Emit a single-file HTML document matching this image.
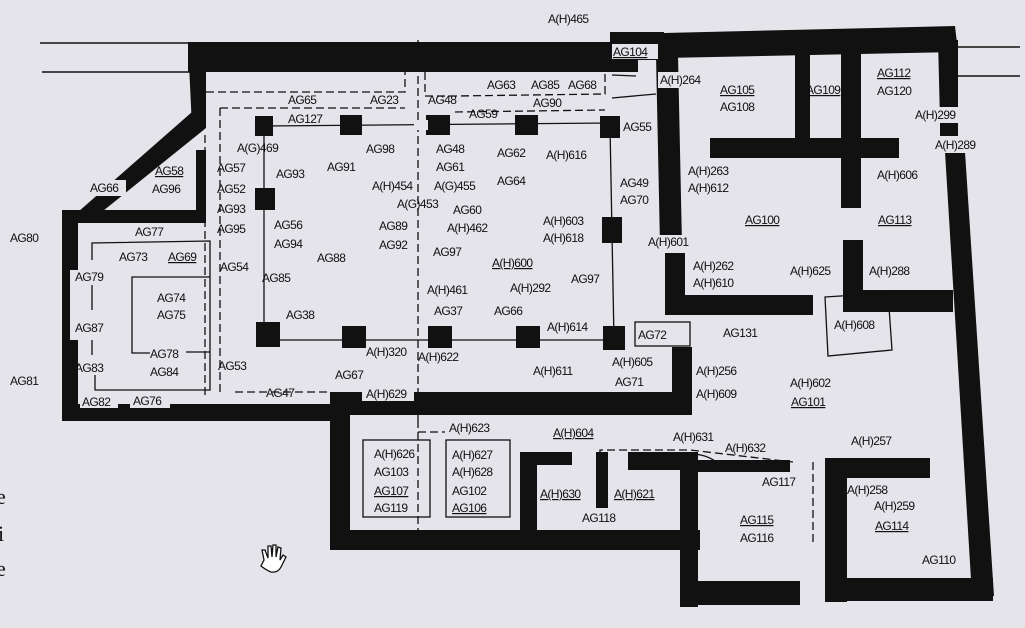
<!DOCTYPE html>
<html><head><meta charset="utf-8"><style>
html,body{margin:0;padding:0;background:#e4e4ea;}
svg{display:block}
text{font-family:"Liberation Sans",sans-serif;font-size:12px;fill:#111;letter-spacing:-0.6px}
.u{text-decoration:underline}
</style></head><body>
<svg width="1025" height="628" viewBox="0 0 1025 628" xmlns="http://www.w3.org/2000/svg">
<rect width="1025" height="628" fill="#e4e4ea"/>
<g stroke="#111" stroke-width="1.5">
<line x1="40" y1="43" x2="190" y2="43"/><line x1="42" y1="72" x2="190" y2="72"/>
<line x1="958" y1="47" x2="1020" y2="47"/><line x1="958" y1="76" x2="1020" y2="76"/>
</g>
<g fill="#111">
<rect x="188" y="42" width="425" height="30"/>
<polygon points="610,32 664,32 664,60 610,60"/>
<polygon points="610,60 638,60 638,72 610,72"/>
<polygon points="664,33 955,26 958,52 664,58"/>
<polygon points="938,40 958,40 958,120 940,120"/>
<rect x="940" y="123" width="18" height="13"/>
<polygon points="945,152 965,152 994,596 972,596"/>
<polygon points="188,42 206,42 206,128 192,128"/>
<polygon points="192,112 206,128 98,215 78,212"/>
<rect x="62" y="212" width="16" height="208"/>
<rect x="62" y="210" width="144" height="13"/>
<rect x="196" y="150" width="10" height="72"/>
<rect x="62" y="404" width="288" height="17"/>
<rect x="330" y="392" width="362" height="23"/>
<rect x="672" y="347" width="20" height="68"/>
<rect x="330" y="392" width="20" height="158"/>
<rect x="330" y="530" width="370" height="20"/>
<polygon points="656,55 678,55 682,245 660,245"/>
<rect x="665" y="253" width="20" height="62"/>
<rect x="665" y="295" width="148" height="20"/>
<rect x="710" y="138" width="189" height="20"/>
<rect x="795" y="50" width="15" height="90"/>
<rect x="841" y="48" width="20" height="160"/>
<rect x="843" y="240" width="20" height="72"/>
<rect x="843" y="290" width="110" height="22"/>
<rect x="520" y="452" width="17" height="80"/>
<rect x="520" y="452" width="52" height="13"/>
<rect x="596" y="452" width="12" height="56"/>
<rect x="628" y="452" width="70" height="18"/>
<rect x="690" y="460" width="100" height="12"/>
<rect x="680" y="452" width="18" height="155"/>
<rect x="680" y="581" width="120" height="24"/>
<rect x="825" y="458" width="22" height="144"/>
<rect x="825" y="458" width="105" height="20"/>
<rect x="825" y="578" width="168" height="23"/>
<rect x="255" y="116" width="18" height="20"/><rect x="340" y="115" width="22" height="20"/><rect x="426" y="115" width="24" height="20"/><rect x="515" y="115" width="23" height="20"/><rect x="600" y="116" width="20" height="22"/>
<rect x="255" y="188" width="20" height="22"/><rect x="602" y="217" width="20" height="26"/>
<rect x="256" y="322" width="24" height="25"/><rect x="342" y="326" width="24" height="22"/><rect x="428" y="326" width="24" height="22"/><rect x="516" y="326" width="24" height="22"/><rect x="603" y="326" width="22" height="24"/>
</g>
<g stroke="#111" stroke-width="1.3" fill="none">
<line x1="264" y1="126" x2="610" y2="123"/><line x1="264" y1="340" x2="615" y2="340"/>
<line x1="264" y1="126" x2="264" y2="340"/><line x1="610" y1="126" x2="614" y2="340"/>
<polyline points="92,260 92,243 210,241 210,390 95,390 95,375"/>
<line x1="92" y1="285" x2="92" y2="310"/><line x1="92" y1="340" x2="92" y2="355"/>
<polyline points="210,277 132,277 132,353 150,353"/><line x1="186" y1="352" x2="210" y2="352"/>
<rect x="363" y="440" width="67" height="77"/><rect x="446" y="440" width="64" height="77"/>
<rect x="635" y="322" width="55" height="24" fill="#e4e4ea"/>
<polygon points="825,297 888,293 892,350 828,356"/>
<line x1="612" y1="75" x2="636" y2="76"/><line x1="612" y1="98" x2="656" y2="94"/>
<path d="M690,455 Q705,452 722,466"/>
</g>
<g stroke="#111" stroke-width="1.3" fill="none" stroke-dasharray="8,4">
<polyline points="206,92 405,92 405,72"/><polyline points="220,108 405,108"/>
<line x1="220" y1="108" x2="220" y2="392"/><line x1="205" y1="135" x2="205" y2="395"/>
<polyline points="425,72 425,96 455,96 605,94 605,72"/><polyline points="455,112 605,110"/>
<line x1="418" y1="40" x2="418" y2="420"/><line x1="418" y1="420" x2="418" y2="535"/>
<line x1="235" y1="392" x2="330" y2="392"/>
<polyline points="600,455 600,450 690,450 793,462"/>
<line x1="813" y1="462" x2="813" y2="545"/>
<polyline points="418,432 445,432"/>
</g>
<g fill="#e4e4ea">
<rect x="612" y="44" width="46" height="15"/><rect x="414" y="120" width="14" height="10"/>
<rect x="132" y="226" width="38" height="12"/><rect x="80" y="396" width="38" height="12"/><rect x="130" y="396" width="40" height="12"/>
<rect x="362" y="388" width="52" height="13"/><rect x="70" y="270" width="10" height="70"/>
<rect x="86" y="180" width="40" height="16"/><rect x="658" y="72" width="44" height="16"/>
<rect x="913" y="107" width="50" height="16"/><rect x="933" y="137" width="52" height="16"/>
<rect x="646" y="235" width="46" height="16"/>
</g>
<g>
<text x="548" y="23">A(H)465</text>
<text x="613" y="56" class="u">AG104</text>
<text x="660" y="84">A(H)264</text>
<text x="720" y="94" class="u">AG105</text><text x="720" y="111">AG108</text>
<text x="806" y="94" class="u">AG109</text>
<text x="877" y="77" class="u">AG112</text><text x="877" y="95">AG120</text>
<text x="915" y="119">A(H)299</text><text x="935" y="149">A(H)289</text>
<text x="288" y="104">AG65</text><text x="370" y="104">AG23</text><text x="428" y="104">AG48</text>
<text x="487" y="89">AG63</text><text x="531" y="89">AG85</text><text x="568" y="89">AG68</text>
<text x="533" y="107">AG90</text><text x="469" y="118">AG59</text>
<text x="288" y="123">AG127</text><text x="623" y="131">AG55</text>
<text x="237" y="152">A(G)469</text><text x="366" y="153">AG98</text><text x="436" y="153">AG48</text>
<text x="497" y="157">AG62</text><text x="546" y="159">A(H)616</text>
<text x="217" y="172">AG57</text><text x="276" y="178">AG93</text><text x="327" y="171">AG91</text><text x="436" y="171">AG61</text>
<text x="155" y="175" class="u">AG58</text><text x="152" y="193">AG96</text><text x="90" y="192">AG66</text>
<text x="217" y="193">AG52</text><text x="372" y="190">A(H)454</text><text x="434" y="190">A(G)455</text><text x="497" y="185">AG64</text>
<text x="688" y="175">A(H)263</text><text x="688" y="192">A(H)612</text><text x="877" y="179">A(H)606</text>
<text x="620" y="187">AG49</text><text x="620" y="204">AG70</text>
<text x="217" y="213">AG93</text><text x="397" y="208">A(G)453</text><text x="453" y="214">AG60</text>
<text x="217" y="233">AG95</text><text x="274" y="229">AG56</text><text x="379" y="230">AG89</text><text x="447" y="232">A(H)462</text>
<text x="543" y="225">A(H)603</text><text x="543" y="242">A(H)618</text>
<text x="745" y="224" class="u">AG100</text><text x="878" y="224" class="u">AG113</text>
<text x="10" y="242">AG80</text>
<text x="135" y="236">AG77</text><text x="119" y="261">AG73</text><text x="168" y="261" class="u">AG69</text>
<text x="274" y="248">AG94</text><text x="379" y="249">AG92</text><text x="433" y="256">AG97</text><text x="317" y="262">AG88</text>
<text x="648" y="246">A(H)601</text><text x="693" y="270">A(H)262</text><text x="693" y="287">A(H)610</text>
<text x="790" y="275">A(H)625</text><text x="869" y="275">A(H)288</text>
<text x="220" y="271">AG54</text><text x="75" y="281">AG79</text><text x="262" y="282">AG85</text><text x="492" y="267" class="u">A(H)600</text>
<text x="157" y="302">AG74</text><text x="157" y="319">AG75</text><text x="427" y="294">A(H)461</text><text x="510" y="292">A(H)292</text><text x="571" y="283">AG97</text>
<text x="286" y="319">AG38</text><text x="434" y="315">AG37</text><text x="494" y="315">AG66</text><text x="834" y="329">A(H)608</text>
<text x="75" y="332">AG87</text><text x="547" y="331">A(H)614</text><text x="638" y="339">AG72</text><text x="723" y="337">AG131</text>
<text x="366" y="356">A(H)320</text><text x="418" y="361">A(H)622</text><text x="150" y="358">AG78</text><text x="150" y="376">AG84</text>
<text x="75" y="372">AG83</text><text x="218" y="370">AG53</text><text x="612" y="366">A(H)605</text><text x="533" y="375">A(H)611</text>
<text x="696" y="375">A(H)256</text><text x="790" y="387">A(H)602</text><text x="335" y="379">AG67</text><text x="615" y="386">AG71</text>
<text x="696" y="398">A(H)609</text><text x="791" y="406" class="u">AG101</text>
<text x="10" y="385">AG81</text><text x="266" y="397">AG47</text><text x="366" y="398">A(H)629</text>
<text x="82" y="406">AG82</text><text x="133" y="405">AG76</text>
<text x="449" y="432">A(H)623</text><text x="553" y="437" class="u">A(H)604</text><text x="673" y="441">A(H)631</text>
<text x="725" y="452">A(H)632</text><text x="851" y="445">A(H)257</text>
<text x="374" y="458">A(H)626</text><text x="452" y="459">A(H)627</text>
<text x="374" y="476">AG103</text><text x="452" y="476">A(H)628</text>
<text x="374" y="495" class="u">AG107</text><text x="452" y="495">AG102</text>
<text x="374" y="512">AG119</text><text x="452" y="512" class="u">AG106</text>
<text x="762" y="486">AG117</text><text x="540" y="498" class="u">A(H)630</text><text x="614" y="498" class="u">A(H)621</text>
<text x="847" y="494">A(H)258</text><text x="874" y="510">A(H)259</text><text x="875" y="530" class="u">AG114</text>
<text x="582" y="522">AG118</text><text x="740" y="524" class="u">AG115</text><text x="740" y="542">AG116</text>
<text x="922" y="564">AG110</text>
</g>
<text x="-4" y="504" style="font-family:'Liberation Serif',serif;font-size:22px">e</text>
<text x="-2" y="541" style="font-family:'Liberation Serif',serif;font-size:22px">i</text>
<text x="-4" y="576" style="font-family:'Liberation Serif',serif;font-size:22px">e</text>
<path d="M264,560 l-2,-10 l3,0 l3,8 l0,-12 l3,0 l1,11 l1,-12 l3,0 l0,12 l2,-10 l3,1 l-1,12 l3,-5 l3,2 l-5,10 q-3,6 -10,5 q-5,-2 -10,-6 z" fill="#fff" stroke="#111" stroke-width="1.3"/>
</svg>
</body></html>
